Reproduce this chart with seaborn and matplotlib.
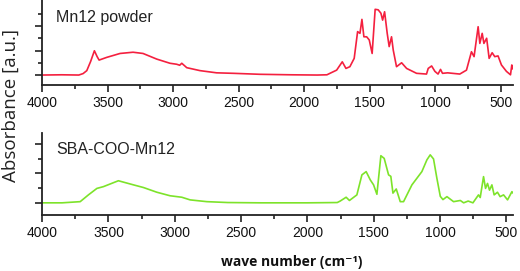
import numpy as np
import pandas as pd
import matplotlib
matplotlib.use("Agg")
import matplotlib.pyplot as plt
import seaborn as sns
from matplotlib.ticker import FixedLocator

# spectra (wavenumber in cm-1, absorbance in a.u.)
mn12_wn = [4000, 3850, 3720, 3687, 3659, 3630, 3601, 3580, 3565, 3507, 3405, 3306,
           3230, 3125, 3024, 2973, 2950, 2934, 2896, 2795, 2668, 2540, 2337, 2100,
           1900, 1826, 1803, 1752, 1709, 1681, 1651, 1618, 1592, 1574, 1559, 1544,
           1523, 1503, 1481, 1458, 1435, 1414, 1401, 1386, 1366, 1351, 1333, 1320,
           1295, 1256, 1218, 1142, 1066, 1053, 1027, 1002, 978, 959, 944, 905, 812,
           761, 723, 703, 672, 659, 641, 628, 607, 588, 565, 545, 520, 494, 456, 425,
           415, 408]
mn12_abs = [0.0, 0.01, 0.0, 0.06, 0.18, 0.55, 0.99, 0.75, 0.61, 0.72, 0.88, 0.93,
            0.88, 0.65, 0.48, 0.44, 0.40, 0.48, 0.30, 0.18, 0.09, 0.07, 0.03, 0.01,
            0.0, 0.01, 0.07, 0.20, 0.54, 0.27, 0.34, 0.68, 1.77, 1.70, 2.27, 1.56,
            1.56, 1.43, 0.88, 2.68, 2.66, 2.52, 2.24, 2.58, 1.70, 1.16, 1.56, 1.02,
            0.34, 0.50, 0.27, 0.07, 0.04, 0.27, 0.37, 0.15, 0.04, 0.23, 0.07, 0.09, 0.04,
            0.20, 0.95, 0.75, 1.97, 1.29, 1.70, 1.29, 1.50, 0.68, 0.91, 0.75, 0.78, 0.41,
            0.15, 0.01, 0.41, 0.25]

sba_wn = [4000, 3850, 3713, 3651, 3587, 3538, 3425, 3311, 3236, 3135, 3035, 2947,
          2884, 2758, 2600, 2356, 2000, 1775, 1753, 1708, 1683, 1627, 1589, 1557,
          1526, 1501, 1476, 1446, 1421, 1388, 1371, 1355, 1330, 1300, 1275, 1212,
          1137, 1099, 1074, 1049, 1024, 998, 978, 948, 898, 847, 822, 788, 752, 710,
          697, 672, 657, 642, 627, 609, 592, 567, 547, 521, 491, 458, 450]
sba_abs = [0.0, 0.0, 0.04, 0.27, 0.49, 0.55, 0.75, 0.61, 0.52, 0.36, 0.24, 0.19,
           0.10, 0.04, 0.01, 0.0, 0.0, 0.01, 0.06, 0.19, 0.08, 0.27, 0.95, 1.06,
           0.78, 0.61, 0.29, 1.60, 1.51, 0.95, 0.90, 0.33, 0.47, 0.04, 0.04, 0.61,
           1.06, 1.46, 1.63, 1.49, 0.84, 0.22, 0.11, 0.21, 0.04, 0.08, 0.0, 0.06, 0.0, 0.27,
           0.18, 0.89, 0.49, 0.66, 0.43, 0.61, 0.27, 0.36, 0.21, 0.27, 0.10, 0.38, 0.33]

panels = [
    ("Mn12 powder", mn12_wn, mn12_abs, "#f4203f", (4000, 408), (-0.41, 3.06)),
    ("SBA-COO-Mn12", sba_wn, sba_abs, "#7de32a", (4000, 452), (-0.41, 2.37)),
]

sns.set_style("ticks")
plt.rcParams["font.family"] = ["Liberation Sans", "DejaVu Sans"]

fig = plt.figure(figsize=(5.2, 2.71), dpi=100)
boxes = [[0.081, 0.686, 0.905, 0.314], [0.081, 0.207, 0.905, 0.302]]

for (name, wn, ab, col, xl, yl), box in zip(panels, boxes):
    ax = fig.add_axes(box)
    df = pd.DataFrame({"wn": wn, "abs": ab})
    sns.lineplot(data=df, x="wn", y="abs", color=col, lw=1.2, ax=ax, sort=False)
    ax.set_xlim(*xl)
    ax.set_ylim(*yl)
    ax.xaxis.set_major_locator(FixedLocator([4000, 3500, 3000, 2500, 2000, 1500, 1000, 500]))
    ax.xaxis.set_minor_locator(FixedLocator([3750, 3250, 2750, 2250, 1750, 1250, 750]))
    ax.yaxis.set_major_locator(FixedLocator([0, 1, 2]))
    ax.yaxis.set_minor_locator(FixedLocator([0.5, 1.5, 2.5]))
    ax.set_yticklabels([])
    ax.tick_params(axis="x", which="major", length=5, width=1.2, labelsize=10,
                   pad=3, color="#222222", labelcolor="#111111")
    ax.tick_params(axis="x", which="minor", length=3, width=1.2, color="#222222")
    ax.tick_params(axis="y", which="major", length=5, width=1.2, color="#222222")
    ax.tick_params(axis="y", which="minor", length=3, width=1.2, color="#222222")
    for s in ["top", "right"]:
        ax.spines[s].set_visible(False)
    for s in ["left", "bottom"]:
        ax.spines[s].set_linewidth(1.3)
        ax.spines[s].set_color("#222222")
    ax.set_xlabel("")
    ax.set_ylabel("")
    ax.text(0.03, 0.8, name, transform=ax.transAxes, fontsize=11.5, color="#222222",
            va="center", ha="left")

fig.text(0.56, 0.033, "wave number (cm\u207b\u00b9)", fontsize=10, fontweight="bold",
         family=["Open Sans", "DejaVu Sans"], ha="center", va="center", color="#111111")
fig.text(0.021, 0.609, "Absorbance [a.u.]", rotation=90, va="center", ha="center",
         fontsize=13.5, family=["Open Sans", "DejaVu Sans"], color="#222222")

fig.savefig("out.png", dpi=100)
